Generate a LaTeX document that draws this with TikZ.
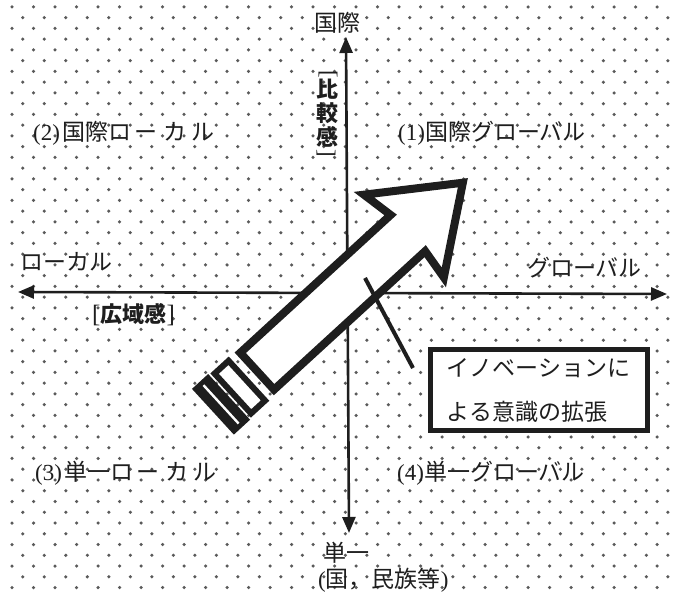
\documentclass[tikz,border=0pt]{standalone}
\usepackage{fontspec}
\setmainfont{Liberation Serif}
\newfontfamily\jp{Noto Sans CJK JP}
\usetikzlibrary{arrows.meta}
\definecolor{dotc}{HTML}{5A5A5A}
\definecolor{ink}{HTML}{1E1E1E}
\begin{document}
\begin{tikzpicture}[x=1pt,y=-1pt,
  lbl/.style={font=\jp\fontsize{23}{27}\selectfont, inner sep=0pt, anchor=west, text=ink},
  vchar/.style={font=\jp\bfseries\fontsize{22}{26}\selectfont, inner sep=0pt, text=ink},
  vbrk/.style={font=\fontsize{23}{25}\selectfont, inner sep=0pt, rotate=-90, text=ink},
  axisline/.style={draw=ink, line width=2.6pt, {Triangle[length=16pt,width=13pt]}-{Triangle[length=16pt,width=13pt]}},
  bigarrow/.style={draw=ink, fill=white, line width=8pt, line join=miter, miter limit=20},
  tailbox/.style={draw=ink, fill=white, line width=6pt},
  notebox/.style={draw=ink, fill=white, line width=5pt, minimum width=216.5pt, minimum height=81pt, align=left, inner sep=0pt, font=\jp\fontsize{23}{44}\selectfont, text=ink},
  pointer/.style={draw=ink, line width=4pt}
]
\useasboundingbox[fill=white] (0,0) rectangle (675,593);
% dot pattern
\foreach \r in {0,...,54}{
  \pgfmathsetmacro\yy{7+10.75*\r}
  \pgfmathsetmacro\off{mod(\r,2)*10.75}
  \foreach \c in {0,...,31}{
    \fill[dotc] ({12+\off+21.5*\c},\yy) circle (1.75);
  }
}
% axes
\coordinate (vt) at (346,37);
\coordinate (vb) at (349,533);
\coordinate (hl) at (18,292);
\coordinate (hr) at (667,294);
\draw[axisline] (vb) -- (vt);
\draw[axisline] (hl) -- (hr);
% axis labels
\node[lbl, anchor=center] (top) at (337,23) {国際};
\node[vbrk] (b1) at (328,74) {[};
\node[vchar] (c1) at (327,89) {比};
\node[vchar] (c2) at (327,113) {較};
\node[vchar] (c3) at (327,137) {感};
\node[vbrk] (b2) at (326,153) {]};
\node[lbl] (loc) at (20,262) {ローカル};
\node[lbl] (glo) at (527,268) {グローバル};
\node[lbl, font=\jp\bfseries\fontsize{22}{26}\selectfont] (wide) at (92,315) {{\rmfamily\mdseries\fontsize{25}{27}\selectfont[}広域感{\rmfamily\mdseries\fontsize{25}{27}\selectfont]}};
\node[lbl] (bot1) at (323,553) {単一};
\node[lbl] (bot2) at (318,580) {{\rmfamily(}国，民族等{\rmfamily)}};
% quadrant labels
\node[lbl] (q1) at (398,133) {{\rmfamily(1)}国際グローバル};
\node[lbl] (q2) at (33,133) {{\rmfamily(2)\kern2pt}国際ロ\kern4ptー\kern5ptカ\kern5ptル};
\node[lbl] (q3) at (35,473) {{\rmfamily(3)\kern2pt}単一ロ\kern4ptー\kern5ptカ\kern5ptル};
\node[lbl] (q4) at (397,473) {{\rmfamily(4)}単一グローバル};
% big arrow
\begin{scope}[shift={(468,178)}, rotate=42.5]
  \draw[bigarrow] (-7,0) -- (-88,-58) -- (-82,-25) -- (-286,-25) -- (-286,25) -- (-81,25) -- (-85,57) -- cycle;
  \draw[tailbox] (-319,-27) rectangle (-300,27);
  \fill[ink] (-346,-31) rectangle (-324,31);
  \fill[white] (-336.2,-26) rectangle (-333.8,26);
\end{scope}
% note box
\node[notebox] (note) at (538.75,390) {イノベーションに\\よる意識の拡張};
\coordinate (p1) at (365,278);
\coordinate (p2) at (413,368);
\draw[pointer] (p1) -- (p2);
\end{tikzpicture}
\end{document}
